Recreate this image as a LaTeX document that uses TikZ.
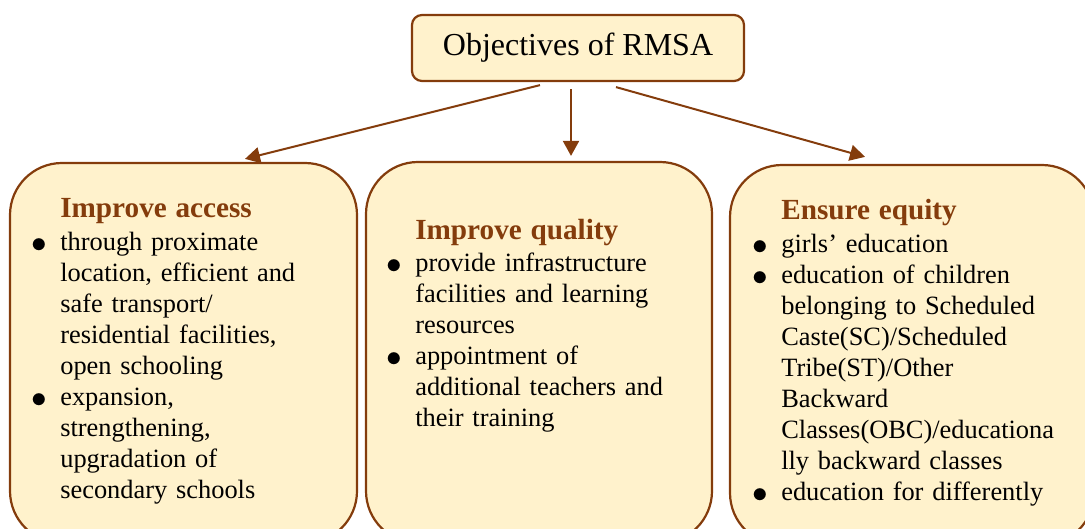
\documentclass[tikz,border=0pt]{standalone}
\usepackage{fontspec}
\setmainfont{Liberation Serif}
\usepackage{enumitem}
\usetikzlibrary{arrows.meta,positioning}
\definecolor{rmsabrown}{HTML}{843C0C}
\definecolor{rmsafill}{HTML}{FFF2CC}
\setlist[itemize]{nosep, leftmargin=0pt, labelsep=6.5pt,
    label=\raisebox{-1pt}{\scalebox{1.3}{$\bullet$}}}

\begin{document}
\begin{tikzpicture}[x=0.5pt, y=-0.5pt,
    objbox/.style={draw=rmsabrown, line width=1.1pt, fill=rmsafill, rounded corners=26pt},
    objtext/.style={anchor=base west, inner sep=0pt, align=left, text width=160pt,
        font=\fontsize{13.2pt}{15.5pt}\selectfont},
    link/.style={draw=rmsabrown, line width=1pt, -{Triangle[length=7.5pt, width=8pt]}}]
    \path[use as bounding box, clip] (0,0) rectangle (1085,529);

    \node[objbox, rounded corners=5pt, minimum width=166pt, minimum height=33pt,
        font=\fontsize{16pt}{19pt}\selectfont] (objectives) at (578,48) {Objectives of RMSA};

    \node[objbox, minimum width=173.5pt, minimum height=190pt] (access) at (183.5,353) {};
    \node[objbox, minimum width=173pt, minimum height=190.5pt] (quality) at (539,352.5) {};
    \node[objbox, minimum width=182pt, minimum height=190pt] (equity) at (912,355) {};

    \node[objtext] (access text) at ([xshift=25.5pt, yshift=-28pt]access.north west) {%
        \textcolor{rmsabrown}{\fontsize{14.6pt}{15.5pt}\selectfont\bfseries Improve access}
        \begin{itemize}[topsep=0.8pt]
            \item through proximate\\ location, efficient and\\ safe transport/\\ residential facilities,\\ open schooling
            \item expansion,\\ strengthening,\\ upgradation of\\ secondary schools
        \end{itemize}};
    \node[objtext] (quality text) at ([xshift=25pt, yshift=-39.5pt]quality.north west) {%
        \textcolor{rmsabrown}{\fontsize{14.6pt}{15.5pt}\selectfont\bfseries Improve quality}
        \begin{itemize}[topsep=0.5pt]
            \item provide infrastructure\\ facilities and learning\\ resources
            \item appointment of\\ additional teachers and\\ their training
        \end{itemize}};
    \node[objtext] (equity text) at ([xshift=26pt, yshift=-28pt]equity.north west) {%
        \textcolor{rmsabrown}{\fontsize{14.6pt}{15.5pt}\selectfont\bfseries Ensure equity}
        \begin{itemize}[topsep=0.8pt]
            \item girls’ education
            \item education of children\\ belonging to Scheduled\\ Caste(SC)/Scheduled\\ Tribe(ST)/Other\\ Backward\\ Classes(OBC)/educationa\\ lly backward classes
            \item education for differently
        \end{itemize}};

    % arrows from the objectives box
    \draw[link] ([xshift=-19pt, yshift=-1.5pt]objectives.south) -- ([xshift=30.75pt, yshift=1.5pt]access.north);
    \draw[link] ([xshift=-3.5pt, yshift=-3.5pt]objectives.south) -- ([xshift=16pt, yshift=2.5pt]quality.north);
    \draw[link] ([xshift=19pt, yshift=-2.5pt]objectives.south) -- ([xshift=-23.5pt, yshift=3.5pt]equity.north);
\end{tikzpicture}
\end{document}
